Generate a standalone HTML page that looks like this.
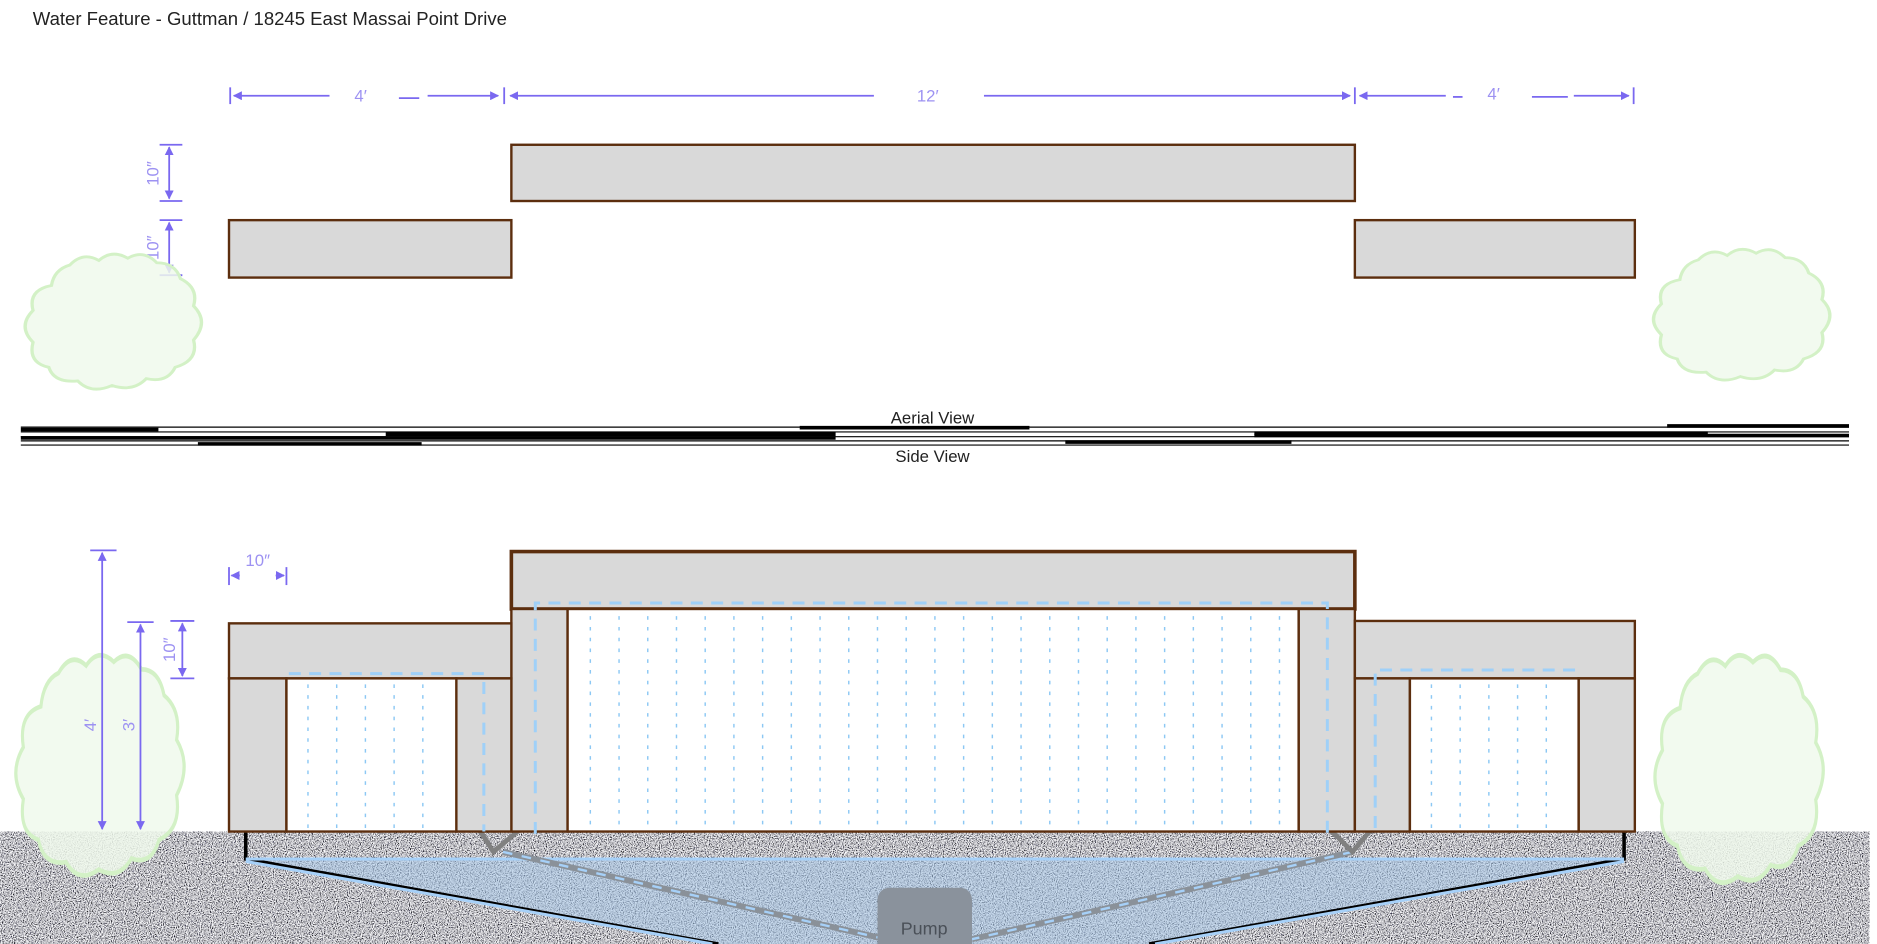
<!DOCTYPE html>
<html><head><meta charset="utf-8"><style>
html,body{margin:0;padding:0;background:#fff;width:1877px;height:944px;overflow:hidden}
svg{display:block}
text{font-family:"Liberation Sans",sans-serif}
</style></head><body>
<svg width="1877" height="944" viewBox="0 0 1568 789" xmlns="http://www.w3.org/2000/svg">
<defs>
<filter id="grav" x="0" y="0" width="100%" height="100%">
<feTurbulence type="fractalNoise" baseFrequency="1.1" numOctaves="2" seed="3"/>
<feColorMatrix type="matrix" values="2.6 0 0 0 -0.75  2.6 0 0 0 -0.75  2.6 0 0 0 -0.72  0 0 0 0 1"/>
</filter>
<marker id="ar" viewBox="0 0 10 10" refX="9" refY="5" markerWidth="5" markerHeight="5" orient="auto-start-reverse"><path d="M0,0 L10,5 L0,10z" fill="#7a68f0"/></marker>
<g id="bush">
<path d="M30,10 q10,-12 22,-4 q10,-10 22,-2 q12,-8 22,4 q14,0 18,14 q14,8 10,24 q12,14 0,30 q4,18 -14,24 q-6,14 -22,10 q-10,12 -26,6 q-16,8 -26,-4 q-18,2 -22,-12 q-16,-4 -12,-22 q-12,-14 0,-28 q-4,-18 14,-22 q2,-14 14,-18z" fill="#f0f9ec" fill-opacity="0.85" stroke="#d3f1c6" stroke-width="2.5"/>
</g>
</defs>
<rect width="1568" height="789" fill="#fff"/>
<text x="27" y="21" font-size="15.5" fill="#222">Water Feature  -  Guttman / 18245 East Massai Point Drive</text>

<g stroke="#7a68f0" stroke-width="1.5" fill="none">
<line x1="192" y1="73" x2="192" y2="87"/><line x1="421" y1="73" x2="421" y2="87"/><line x1="1132" y1="73" x2="1132" y2="87"/><line x1="1365" y1="73" x2="1365" y2="87"/>
<line x1="275" y1="80" x2="195" y2="80" marker-end="url(#ar)"/>
<line x1="333" y1="82" x2="350" y2="82"/>
<line x1="357" y1="80" x2="416" y2="80" marker-end="url(#ar)"/>
<line x1="730" y1="80" x2="426" y2="80" marker-end="url(#ar)"/>
<line x1="822" y1="80" x2="1128" y2="80" marker-end="url(#ar)"/>
<line x1="1208" y1="80" x2="1136" y2="80" marker-end="url(#ar)"/>
<line x1="1214" y1="81" x2="1222" y2="81"/>
<line x1="1280" y1="81" x2="1310" y2="81"/>
<line x1="1315" y1="80" x2="1361" y2="80" marker-end="url(#ar)"/>
<line x1="133" y1="121" x2="152" y2="121"/><line x1="133" y1="168" x2="152" y2="168"/>
<line x1="141" y1="123" x2="141" y2="166" marker-start="url(#ar)" marker-end="url(#ar)"/>
<line x1="133" y1="184" x2="152" y2="184"/><line x1="133" y1="230" x2="152" y2="230"/>
<line x1="141" y1="186" x2="141" y2="228" marker-start="url(#ar)" marker-end="url(#ar)"/>
</g>
<g fill="#9d92f2" font-size="14" text-anchor="middle">
<text x="301" y="85">4′</text><text x="775" y="85">12′</text><text x="1248" y="83">4′</text>
<text transform="translate(132,145) rotate(-90)">10″</text>
<text transform="translate(132,207) rotate(-90)">10″</text>
</g>

<use href="#bush" transform="translate(25,212) scale(1.1,0.95)"/>
<use href="#bush" transform="translate(1386,208) scale(1.1,0.92)"/>

<g fill="#d9d9d9" stroke="#5c2e0e" stroke-width="2">
<rect x="427" y="121" width="705" height="47"/>
<rect x="191" y="184" width="236" height="48"/>
<rect x="1132" y="184" width="234" height="48"/>
</g>

<g stroke="#000">
<g stroke-width="1"><line x1="17" y1="357" x2="1545" y2="357"/><line x1="17" y1="361" x2="1545" y2="361"/><line x1="17" y1="365" x2="1545" y2="365"/><line x1="17" y1="368.5" x2="1545" y2="368.5"/><line x1="17" y1="372" x2="1545" y2="372"/></g>
<g stroke-width="3"><line x1="17" y1="359" x2="132" y2="359"/><line x1="668" y1="357.5" x2="860" y2="357.5"/><line x1="1393" y1="356" x2="1545" y2="356"/><line x1="322" y1="363" x2="698" y2="363"/><line x1="1048" y1="362" x2="1427" y2="362"/><line x1="17" y1="366" x2="698" y2="366"/><line x1="1048" y1="364" x2="1545" y2="364"/><line x1="165" y1="371" x2="352" y2="371"/><line x1="890" y1="369.5" x2="1079" y2="369.5"/></g>
</g>
<text x="779" y="354" font-size="14" fill="#222" text-anchor="middle">Aerial View</text>
<text x="779" y="386" font-size="14" fill="#222" text-anchor="middle">Side View</text>

<rect x="0" y="695" width="1562" height="94" filter="url(#grav)"/>
<polygon points="205,718 1357,718 960,789 600,789" fill="#a8c8ea" opacity="0.55"/>
<g stroke="#000" stroke-width="3" fill="none">
<polyline points="205,695 205,718 600,789"/><polyline points="1357,695 1357,718 960,789"/>
</g>
<g stroke="#a6d0f8" stroke-width="2.5" fill="none">
<line x1="205" y1="718" x2="1357" y2="718"/>
<line x1="205" y1="720" x2="595" y2="789"/><line x1="1357" y1="720" x2="965" y2="789"/>
</g>
<g stroke="#8a9199" stroke-width="5" fill="none"><line x1="420" y1="712" x2="740" y2="785"/><line x1="1130" y1="712" x2="812" y2="785"/></g>
<g stroke="#a6d0f8" stroke-width="2" stroke-dasharray="8,8" fill="none"><line x1="420" y1="712" x2="740" y2="785"/><line x1="1130" y1="712" x2="812" y2="785"/></g>
<rect x="733" y="742" width="79" height="60" rx="10" fill="#8a929c"/>
<text x="772" y="781" font-size="15" fill="#4a5058" text-anchor="middle">Pump</text>
<g stroke="#808080" stroke-width="4" fill="none"><path d="M398,690 L412,712 L438,690"/><path d="M1108,690 L1130,712 L1150,688"/></g>

<use href="#bush" transform="translate(17,547) scale(1.05,1.55)"/>
<use href="#bush" transform="translate(1387,547) scale(1.05,1.6)"/>

<g stroke="#5c2e0e" stroke-width="2" fill="#d9d9d9">
<rect x="427" y="461" width="705" height="48" stroke-width="3"/>
<rect x="427" y="509" width="47" height="186"/>
<rect x="1085" y="509" width="47" height="186"/>
<rect x="474" y="509" width="611" height="186" fill="#fff"/>
<rect x="191" y="521" width="236" height="46"/>
<rect x="191" y="567" width="48" height="128"/>
<rect x="381" y="567" width="46" height="128"/>
<rect x="239" y="567" width="142" height="128" fill="#fff"/>
<rect x="1132" y="519" width="234" height="48"/>
<rect x="1132" y="567" width="46" height="128"/>
<rect x="1319" y="567" width="47" height="128"/>
<rect x="1178" y="567" width="141" height="128" fill="#fff"/>
</g>
<g stroke="#8cc8f4" stroke-width="1.2" stroke-dasharray="3,6">
<path d="M493,515V695M517,515V695M541,515V695M565,515V695M589,515V695M613,515V695M637,515V695M661,515V695M685,515V695M709,515V695M733,515V695M757,515V695M781,515V695M805,515V695M829,515V695M853,515V695M877,515V695M901,515V695M925,515V695M949,515V695M973,515V695M997,515V695M1021,515V695M1045,515V695M1069,515V695"/>
<path d="M257,572V695M281,572V695M305,572V695M329,572V695M353,572V695M1196,572V695M1220,572V695M1244,572V695M1268,572V695M1292,572V695"/>
</g>
<g stroke="#9fd0f8" stroke-width="2.5" stroke-dasharray="10,7" fill="none">
<polyline points="447,697 447,504 1109,504 1109,697"/>
<polyline points="241,563 404,563 404,695"/>
<polyline points="1316,560 1149,560 1149,695"/>
</g>

<g stroke="#7a68f0" stroke-width="1.5" fill="none">
<line x1="75" y1="460" x2="97" y2="460"/>
<line x1="85" y1="462" x2="85" y2="693" marker-start="url(#ar)" marker-end="url(#ar)"/>
<line x1="106" y1="520" x2="128" y2="520"/>
<line x1="117" y1="522" x2="117" y2="693" marker-start="url(#ar)" marker-end="url(#ar)"/>
<line x1="142" y1="519" x2="162" y2="519"/><line x1="142" y1="567" x2="162" y2="567"/>
<line x1="152" y1="521" x2="152" y2="565" marker-start="url(#ar)" marker-end="url(#ar)"/>
<line x1="191" y1="474" x2="191" y2="489"/><line x1="239" y1="474" x2="239" y2="489"/>
<line x1="200" y1="481" x2="193" y2="481" marker-end="url(#ar)"/>
<line x1="230" y1="481" x2="237" y2="481" marker-end="url(#ar)"/>
</g>
<g fill="#9d92f2" font-size="14" text-anchor="middle">
<text x="215" y="473">10″</text>
<text transform="translate(146,543) rotate(-90)">10″</text>
<text transform="translate(80,606) rotate(-90)">4′</text>
<text transform="translate(112,606) rotate(-90)">3′</text>
</g>
</svg>
</body></html>
